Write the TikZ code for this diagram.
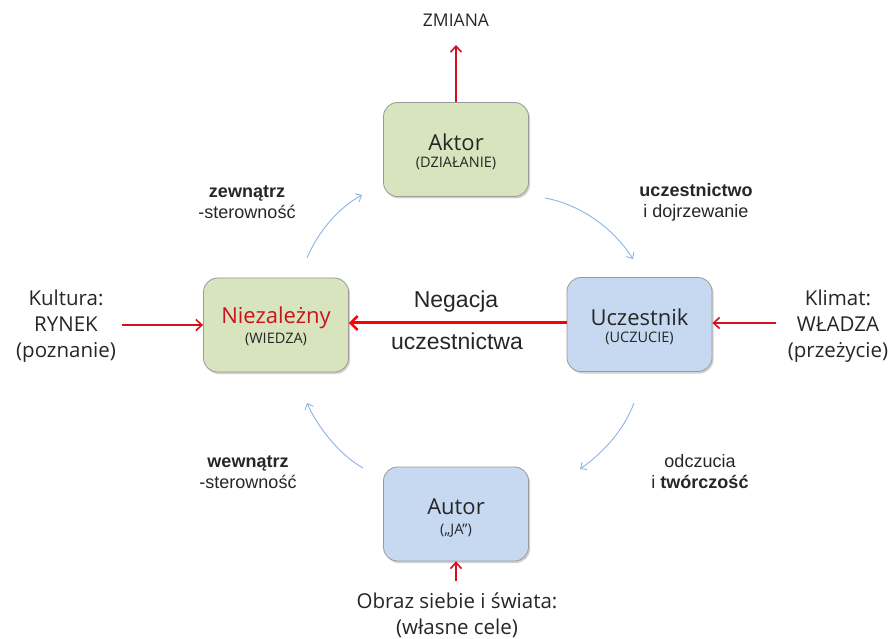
\documentclass[tikz,border=0pt]{standalone}
\usepackage{fontspec}
\setmainfont{Liberation Sans}
\newfontfamily\boxfont{Open Sans}
\usetikzlibrary{arrows.meta,shadows}

\definecolor{boxgreen}{HTML}{D7E4BD}
\definecolor{boxblue}{HTML}{C6D9F1}
\definecolor{boxline}{HTML}{9A9A9A}
\definecolor{inkdark}{HTML}{262626}
\definecolor{arrowred}{HTML}{D40F1E}
\definecolor{brightred}{HTML}{FF0000}
\definecolor{cyclblue}{HTML}{8DB3E2}
\definecolor{titlered}{HTML}{C8141E}

\tikzset{
  stagebox/.style={draw=boxline, line width=0.8pt, rounded corners=14pt,
    minimum width=145pt, minimum height=94pt, inner sep=0pt,
    drop shadow={shadow xshift=1.5pt, shadow yshift=-2pt, opacity=0.3, fill=black!60}},
  greenbox/.style={stagebox, fill=boxgreen},
  bluebox/.style={stagebox, fill=boxblue},
  boxtitle/.style={text=inkdark, font=\boxfont\fontsize{22}{26}\selectfont, inner sep=0pt},
  boxsub/.style={text=inkdark, font=\boxfont\fontsize{14.5}{16}\selectfont, inner sep=0pt},
  outertext/.style={text=inkdark, align=center, inner sep=0pt,
    font=\boxfont\fontsize{20.5}{26}\selectfont},
  cyclabel/.style={text=inkdark, align=center, inner sep=0pt,
    font=\fontsize{18}{21}\selectfont},
  redarrow/.style={draw=arrowred, line width=1.6pt,
    -{Straight Barb[length=6pt,width=11pt,line width=1.6pt]}},
  mainarrow/.style={draw=brightred, line width=3pt,
    -{Straight Barb[length=7pt,width=14pt,line width=2.4pt]}},
  cycarrow/.style={draw=cyclblue, line width=0.9pt,
    -{Straight Barb[length=5pt,width=9pt,line width=0.9pt]}}
}

\begin{document}
\begin{tikzpicture}[x=1pt,y=-1pt]
\useasboundingbox (0,0) rectangle (895,639);

% the four stages
\node[greenbox] (aktor) at (456,149.5) {};
\node[greenbox] (niez)  at (276,325) {};
\node[bluebox]  (ucz)   at (639.5,324.5) {};
\node[bluebox]  (autor) at (456,514) {};

\node[boxtitle] (aktorT) at (456,142) {Aktor};
\node[boxsub]   (aktorS) at (456,163) {(DZIAŁANIE)};
\node[boxtitle, text=titlered] (niezT) at (276,318) {Niezależny};
\node[boxsub]   (niezS)  at (276,339) {(WIEDZA)};
\node[boxtitle] (uczT)   at (639.5,317) {Uczestnik};
\node[boxsub]   (uczS)   at (639.5,338) {(UCZUCIE)};
\node[boxtitle] (autorT) at (456,507) {Autor};
\node[boxsub]   (autorS) at (456,531) {(„JA”)};

% outer influences
\node[outertext] (zmiana) at (456,20) {\fontsize{17.5}{20}\selectfont ZMIANA};
\node[outertext] (kultura) at (66,326) {Kultura:\\RYNEK\\(poznanie)};
\node[outertext] (klimat) at (838,326) {Klimat:\\WŁADZA\\(przeżycie)};
\node[outertext] (obraz) at (457,615) {Obraz siebie i świata:\\(własne cele)};

\coordinate (zmianaEnd) at (456,45);
\coordinate (kulturaStart) at (122,325);
\coordinate (klimatStart) at (776,323);
\coordinate (obrazStart) at (456,581);

\draw[redarrow] (aktor.north) -- (zmianaEnd);
\draw[redarrow] (kulturaStart) -- (niez.west |- kulturaStart);
\draw[redarrow] (klimatStart) -- (ucz.east |- klimatStart);
\draw[redarrow] (obrazStart) -- (autor.south);

% negation of participation
\draw[mainarrow] (ucz.west |- 0,323) coordinate (negStart) -- (niez.east |- negStart);
\node[text=inkdark, inner sep=0pt, font=\fontsize{23}{26}\selectfont] (neg1) at (456,302) {Negacja};
\node[text=inkdark, inner sep=0pt, font=\fontsize{23}{26}\selectfont] (neg2) at (457,341) {uczestnictwa};

% the cycle
\coordinate (c1s) at (307,258);  \coordinate (c1e) at (362,195);
\coordinate (c2s) at (545,198);  \coordinate (c2e) at (633,259);
\coordinate (c3s) at (634,403);  \coordinate (c3e) at (580,469);
\coordinate (c4s) at (363,468);  \coordinate (c4e) at (307,403);

\draw[cycarrow] (c1s) .. controls (318,232) and (338,208) .. (c1e);
\draw[cycarrow] (c2s) .. controls (578,204) and (612,226) .. (c2e);
\draw[cycarrow] (c3s) .. controls (624,430) and (603,453) .. (c3e);
\draw[cycarrow] (c4s) .. controls (340,455) and (318,428) .. (c4e);

\node[cyclabel] (lab1) at (247,202) {\textbf{zewnątrz}\\-sterowność};
\node[cyclabel] (lab2) at (696,202) {\textbf{uczestnictwo}\\i dojrzewanie};
\node[cyclabel] (lab3) at (248,472) {\textbf{wewnątrz}\\-sterowność};
\node[cyclabel] (lab4) at (700,472) {odczucia\\i \textbf{twórczość}};
\end{tikzpicture}
\end{document}
